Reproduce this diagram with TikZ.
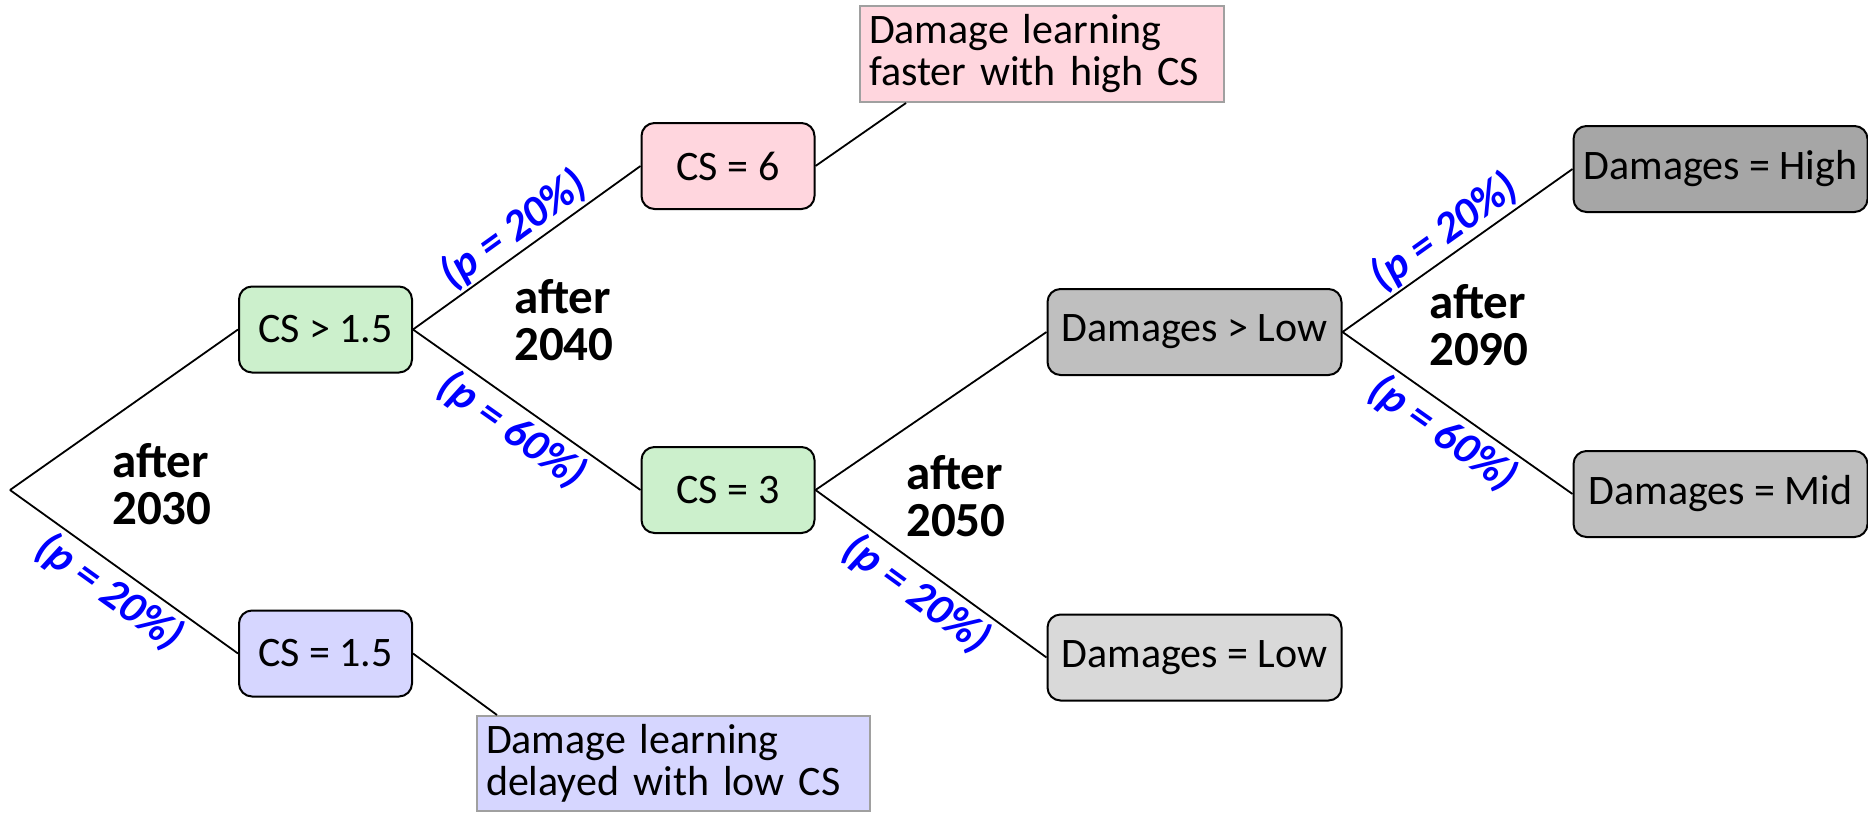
\documentclass[tikz,border=0pt]{standalone}
\usepackage{fontspec}
\setmainfont{Carlito}
\definecolor{greenc}{RGB}{204,240,204}
\definecolor{pinkc}{RGB}{255,214,222}
\definecolor{lavc}{RGB}{214,214,255}
\definecolor{grayA}{RGB}{191,191,191}
\definecolor{grayB}{RGB}{217,217,217}
\definecolor{grayC}{RGB}{166,166,166}
\definecolor{notegray}{RGB}{160,160,160}
\definecolor{pblue}{RGB}{0,0,255}
\begin{document}
\begin{tikzpicture}[x=1pt,y=-1pt,
  box/.style={draw=black, line width=2pt, rounded corners=13pt, minimum width=173pt, minimum height=86pt, inner sep=0pt, font=\fontsize{42}{46}\selectfont},
  wbox/.style={box, minimum width=294pt},
  note/.style={draw=notegray, line width=2pt, align=left, inner xsep=9pt, inner ysep=0pt, font=\fontsize{42}{42}\selectfont},
  edge/.style={line width=1.8pt},
  lbl/.style={sloped, text=pblue, font=\fontsize{44}{44}\selectfont\bfseries\itshape, inner sep=0pt, text height=31pt, text depth=8pt, pos=0.5},
  yr/.style={font=\fontsize{49}{47}\selectfont\bfseries, align=left, inner sep=0pt, anchor=south west}
]
\useasboundingbox (0,0) rectangle (1868,812);
\coordinate (root) at (10,490);
\node[box, fill=greenc] (A) at (325.5,329.5) {CS > 1.5};
\node[box, fill=lavc] (B) at (325.5,653.5) {CS = 1.5};
\node[box, fill=pinkc] (C) at (728,166) {CS = 6};
\node[box, fill=greenc] (D) at (728,490) {CS = 3};
\node[wbox, fill=grayA] (E) at (1194.5,332) {Damages > Low};
\node[wbox, fill=grayB] (F) at (1194.5,657.5) {Damages = Low};
\node[wbox, fill=grayC] (G) at (1720.5,169) {Damages = High};
\node[wbox, fill=grayA] (H) at (1720.5,494) {Damages = Mid};
\node[note, fill=pinkc, text width=346pt, minimum height=96pt] (N1) at (1042,54) {Damage learning\\faster with high CS};
\node[note, fill=lavc, text width=375pt, minimum height=95pt] (N2) at (673.5,763.5) {Damage learning\\delayed with low CS};

\draw[edge] (root) -- (A.west);
\draw[edge] (root) -- (B.west) node[lbl, below=6pt] (l1) {(p = 20\%)};
\draw[edge] (A.east) -- (C.west) node[lbl, above=1pt] (l2) {(p = 20\%)};
\draw[edge] (A.east) -- (D.west) node[lbl, below=6pt] (l3) {(p = 60\%)};
\draw[edge] (C.east) -- ([xshift=47pt]N1.south west);
\draw[edge] (B.east) -- ([xshift=21pt]N2.north west);
\draw[edge] (D.east) -- (E.west);
\draw[edge] (D.east) -- (F.west) node[lbl, below=6pt] (l4) {(p = 20\%)};
\draw[edge] (E.east) -- (G.west) node[lbl, above=1pt] (l5) {(p = 20\%)};
\draw[edge] (E.east) -- (H.west) node[lbl, below=6pt] (l6) {(p = 60\%)};

\node[yr] (y1) at (112,525) {after\\2030};
\node[yr] (y2) at (514,361) {after\\2040};
\node[yr] (y3) at (906,537) {after\\2050};
\node[yr] (y4) at (1429,366) {after\\2090};
\end{tikzpicture}
\end{document}
